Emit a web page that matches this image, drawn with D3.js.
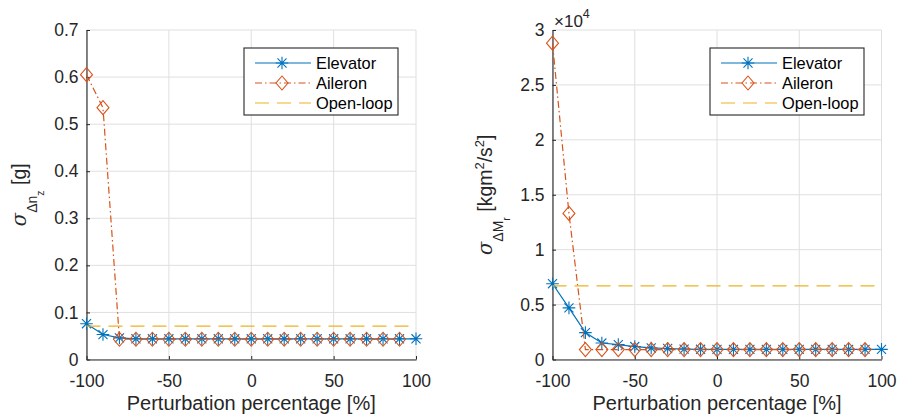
<!DOCTYPE html>
<html>
<head>
<meta charset="utf-8">
<script src="https://cdn.jsdelivr.net/npm/d3@7"></script>
<style>
  html, body { margin: 0; padding: 0; background: #fff; }
  svg { display: block; font-family: "Liberation Sans", Arial, Helvetica, sans-serif; }
</style>
</head>
<body>
<svg id="fig" width="898" height="417"></svg>
<script>
// Perturbation levels (percent)
const perturbation = [-100, -90, -80, -70, -60, -50, -40, -30, -20, -10, 0, 10, 20, 30, 40, 50, 60, 70, 80, 90, 100];

// Vertical load factor std [g]
const nzElevator = [0.076, 0.053, 0.046, 0.044, 0.044, 0.044, 0.044, 0.044, 0.044, 0.044, 0.044,
                    0.044, 0.044, 0.044, 0.044, 0.044, 0.044, 0.044, 0.044, 0.044, 0.044];
const nzAileron  = [0.605, 0.535, 0.043, 0.043, 0.043, 0.043, 0.043, 0.043, 0.043, 0.043,
                    0.043, 0.043, 0.043, 0.043, 0.043, 0.043, 0.043, 0.043, 0.043, 0.043];
const nzOpenLoop = 0.071;

// Root bending moment std [kgm^2/s^2]
const mrElevator = [6900, 4700, 2450, 1500, 1350, 1180, 1050, 1000, 950, 930, 920,
                    920, 920, 920, 920, 920, 920, 920, 920, 920, 920];
const mrAileron  = [28800, 13300, 900, 900, 900, 900, 900, 900, 900, 900,
                    900, 900, 900, 900, 900, 900, 900, 900, 900, 900];
const mrOpenLoop = 6700;

const xTicks = [-100, -50, 0, 50, 100];
const nzTicks = [0, 0.1, 0.2, 0.3, 0.4, 0.5, 0.6, 0.7];
const mrTicks = [0, 5000, 10000, 15000, 20000, 25000, 30000];

const seriesNames = ["Elevator", "Aileron", "Open-loop"];
const colors = { Elevator: "#0072BD", Aileron: "#D95319", "Open-loop": "#EDB120" };

const svg = d3.select("#fig");
const axisColor = "#262626";
const gridColor = "#dfdfdf";

function asterisk(g, cx, cy, color) {
  const r = 6.3, d = r * 0.72;
  const p = d3.path();
  p.moveTo(cx - r, cy); p.lineTo(cx + r, cy);
  p.moveTo(cx, cy - r); p.lineTo(cx, cy + r);
  p.moveTo(cx - d, cy - d); p.lineTo(cx + d, cy + d);
  p.moveTo(cx - d, cy + d); p.lineTo(cx + d, cy - d);
  g.append("path").attr("d", p.toString()).attr("stroke", color).attr("stroke-width", 1.1).attr("fill", "none");
}
function diamond(g, cx, cy, color) {
  const w = 6, h = 7;
  g.append("path")
    .attr("d", `M${cx},${cy - h}L${cx + w},${cy}L${cx},${cy + h}L${cx - w},${cy}Z`)
    .attr("stroke", color).attr("stroke-width", 1.1).attr("fill", "none");
}

function drawPanel(opt) {
  const x = d3.scaleLinear().domain([-100, 100]).range([opt.left, opt.right]);
  const y = d3.scaleLinear().domain(opt.yDomain).range([opt.bottom, opt.top]);
  const g = svg.append("g");

  // grid
  g.append("g").selectAll("line").data(xTicks).join("line")
    .attr("x1", d => x(d)).attr("x2", d => x(d)).attr("y1", opt.top).attr("y2", opt.bottom)
    .attr("stroke", gridColor).attr("stroke-width", 1);
  g.append("g").selectAll("line").data(opt.yTicks).join("line")
    .attr("x1", opt.left).attr("x2", opt.right).attr("y1", d => y(d)).attr("y2", d => y(d))
    .attr("stroke", gridColor).attr("stroke-width", 1);

  // axes (inward ticks, no box)
  const xAxis = d3.axisBottom(x).tickValues(xTicks).tickSizeInner(-3.5).tickSizeOuter(0).tickPadding(10)
    .tickFormat(d => String(d));
  const gx = g.append("g").attr("transform", `translate(0,${opt.bottom})`).call(xAxis);
  const yAxis = d3.axisLeft(y).tickValues(opt.yTicks).tickSizeInner(-3.5).tickSizeOuter(0).tickPadding(10)
    .tickFormat(opt.yFormat);
  const gy = g.append("g").attr("transform", `translate(${opt.left},0)`).call(yAxis);
  [gx, gy].forEach(a => {
    a.select(".domain").attr("stroke", axisColor).attr("stroke-width", 1.1);
    a.selectAll(".tick line").attr("stroke", axisColor).attr("stroke-width", 1);
    a.selectAll(".tick text").attr("fill", axisColor).attr("font-size", 17.5)
      .attr("font-family", "Liberation Sans, Arial, sans-serif");
  });
  gx.selectAll(".tick text").attr("dy", "0.98em");
  gy.selectAll(".tick text").attr("x", -8);

  // series
  const line = d3.line().x(d => x(d[0])).y(d => y(d[1]));
  const elev = perturbation.map((p, i) => [p, opt.elevator[i]]);
  const ail = opt.aileron.map((v, i) => [perturbation[i], v]);

  g.append("path").attr("d", line(elev)).attr("fill", "none")
    .attr("stroke", colors.Elevator).attr("stroke-width", 1.2);
  elev.forEach(d => asterisk(g, x(d[0]), y(d[1]), colors.Elevator));

  g.append("path").attr("d", line(ail)).attr("fill", "none")
    .attr("stroke", colors.Aileron).attr("stroke-width", 1.2).attr("stroke-dasharray", "7,3,1.5,3");
  ail.forEach(d => diamond(g, x(d[0]), y(d[1]), colors.Aileron));

  g.append("line")
    .attr("x1", x(-100)).attr("x2", x(100)).attr("y1", y(opt.openLoop)).attr("y2", y(opt.openLoop))
    .attr("stroke", colors["Open-loop"]).attr("stroke-width", 1.2).attr("stroke-dasharray", "14,8");

  // x label
  g.append("text").attr("x", (opt.left + opt.right) / 2).attr("y", 410)
    .attr("text-anchor", "middle").attr("font-size", 20).attr("fill", axisColor)
    .text("Perturbation percentage [%]");

  // y label: sigma with nested subscripts, then unit
  const yl = g.append("text")
    .attr("transform", `translate(${opt.ylabelX},${(opt.top + opt.bottom) / 2}) rotate(-90)`)
    .attr("text-anchor", "middle").attr("font-size", 19.5).attr("fill", axisColor);
  yl.append("tspan").attr("font-style", "italic").attr("font-family", "DejaVu Serif, serif").text("σ");
  yl.append("tspan").attr("font-size", 14).attr("dy", 11).text(opt.sub1);
  yl.append("tspan").attr("font-size", 10.5).attr("dy", 7).text(opt.sub2);
  yl.append("tspan").attr("dy", -18).text("\u00a0");
  opt.unit(yl);

  // legend
  const lg = g.append("g").attr("transform", `translate(${opt.legendX},48)`);
  lg.append("rect").attr("x", 0).attr("y", 0).attr("width", 154).attr("height", 67)
    .attr("fill", "#fff").attr("stroke", axisColor).attr("stroke-width", 1.1);
  seriesNames.forEach((name, i) => {
    const cy = 15 + i * 20;
    const ln = lg.append("line").attr("x1", 11).attr("x2", 67).attr("y1", cy).attr("y2", cy)
      .attr("stroke", colors[name]).attr("stroke-width", 1.2);
    if (name === "Aileron") { ln.attr("stroke-dasharray", "7,3,1.5,3"); diamond(lg, 38, cy, colors[name]); }
    if (name === "Open-loop") ln.attr("stroke-dasharray", "14,8");
    if (name === "Elevator") asterisk(lg, 38, cy, colors[name]);
    lg.append("text").attr("x", 72).attr("y", cy).attr("dy", "0.36em")
      .attr("font-size", 16.4).attr("fill", "#000").text(name);
  });
}

drawPanel({
  left: 86.5, right: 416, top: 30, bottom: 359.5,
  yDomain: [0, 0.7], yTicks: nzTicks, yFormat: d => d === 0 ? "0" : d3.format(".1f")(d),
  elevator: nzElevator, aileron: nzAileron, openLoop: nzOpenLoop,
  ylabelX: 26, sub1: "Δn", sub2: "z",
  unit: t => t.append("tspan").text("[g]"),
  legendX: 244
});

drawPanel({
  left: 552.5, right: 881.5, top: 30, bottom: 359.5,
  yDomain: [0, 30000], yTicks: mrTicks, yFormat: d => d3.format("~g")(d / 10000),
  elevator: mrElevator, aileron: mrAileron, openLoop: mrOpenLoop,
  ylabelX: 492, sub1: "ΔM", sub2: "r",
  unit: t => {
    t.append("tspan").text("[kgm");
    t.append("tspan").attr("font-size", 13).attr("dy", -8).text("2");
    t.append("tspan").attr("dy", 8).text("/s");
    t.append("tspan").attr("font-size", 13).attr("dy", -8).text("2");
    t.append("tspan").attr("dy", 8).text("]");
  },
  legendX: 710
});

// exponent label for the moment axis
const ex = svg.append("text").attr("x", 554).attr("y", 26.5).attr("font-size", 17).attr("fill", "#262626");
ex.append("tspan").text("×10");
ex.append("tspan").attr("font-size", 12.5).attr("dy", -9).text("4");
</script>
</body>
</html>
